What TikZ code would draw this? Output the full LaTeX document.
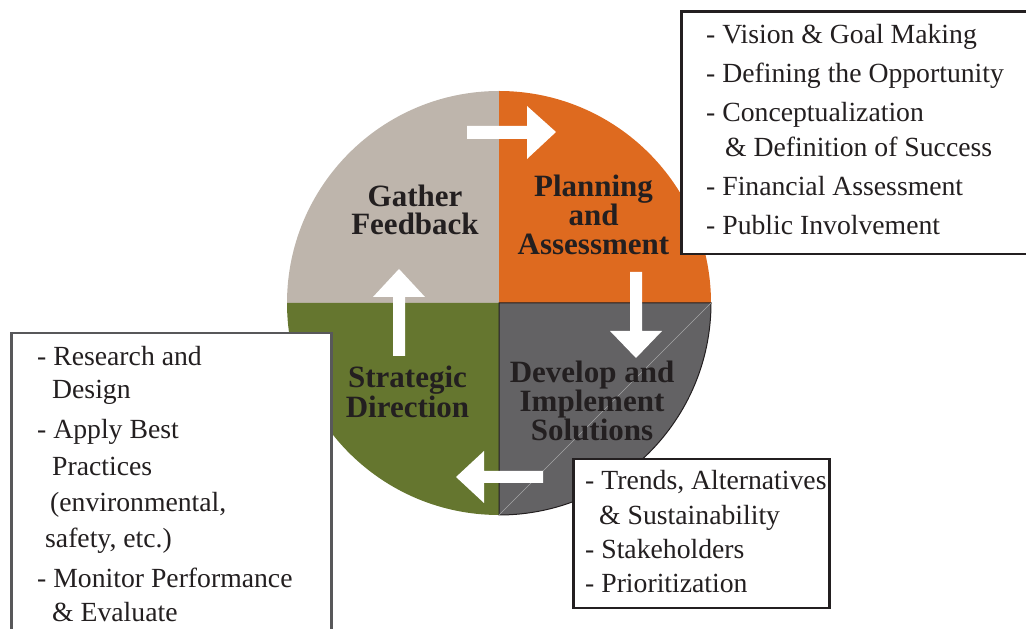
\documentclass[tikz,border=0pt]{standalone}
\usepackage{fontspec}
\setmainfont{Liberation Serif}
\begin{document}
\begin{tikzpicture}[x=1pt,y=1pt,
  txt/.style={inner sep=0pt, text=inkdark, font=\fontsize{27.7}{33}\selectfont},
  item/.style={txt, anchor=base west},
  lbl/.style={inner sep=0pt, anchor=base, text=inkdark, font=\fontsize{31}{29}\selectfont\bfseries},
  framebox/.style={draw=inkdark, line width=2.5pt, fill=white, rectangle, inner sep=0pt, anchor=north west},
  blockarrow/.style={fill=white, draw=none}]
\definecolor{inkdark}{HTML}{231F20}
\definecolor{qbeige}{HTML}{BEB5AC}
\definecolor{qorange}{HTML}{DE6A1F}
\definecolor{qgray}{HTML}{636264}
\definecolor{qgreen}{HTML}{65762F}
\definecolor{framegray}{HTML}{58585A}

\useasboundingbox (0,0) rectangle (1026,629);
\clip (0,0) rectangle (1026,629);

% four quadrants of the cycle
\coordinate (C) at (499,326);
\fill[qbeige]  (C) -- (287,326) arc[start angle=180, end angle=90,  radius=212] -- cycle;
\fill[qorange] (C) -- (499,538) arc[start angle=90,  end angle=0,   radius=212] -- cycle;
\fill[qgreen]  (C) -- (499,114) arc[start angle=270, end angle=180, radius=212] -- cycle;
\filldraw[fill=qgray, draw=inkdark, line width=1pt]
  (C) -- (711,326) arc[start angle=0, end angle=-90, radius=212] -- cycle;
\draw[gray!70, line width=0.6pt] (499,114) -- (711,326);

% white block arrows turning clockwise
\fill[blockarrow] (467,503) -- (527,503) -- (527,523) -- (556,497) -- (527,470) -- (527,490) -- (467,490) -- cycle;
\fill[blockarrow] (630,357) -- (642,357) -- (642,298) -- (662,298) -- (636,271) -- (610,298) -- (630,298) -- cycle;
\fill[blockarrow] (543,158) -- (484,158) -- (484,178) -- (456,152) -- (484,126) -- (484,146) -- (543,146) -- cycle;
\fill[blockarrow] (393,273) -- (405,273) -- (405,332) -- (425,332) -- (399,360) -- (373,332) -- (393,332) -- cycle;

% quadrant labels
\node[lbl] (g1) at (415,422) {Gather};
\node[lbl] (g2) at (415,394) {Feedback};
\node[lbl] (p1) at (593.5,432) {Planning};
\node[lbl] (p2) at (593.5,403) {and};
\node[lbl] (p3) at (593.5,374) {Assessment};
\node[lbl] (s1) at (407.5,241) {Strategic};
\node[lbl] (s2) at (407.5,211) {Direction};
\node[lbl] (d1) at (592,246) {Develop and};
\node[lbl] (d2) at (592,217) {Implement};
\node[lbl] (d3) at (592,188) {Solutions};

% planning tasks
\node[framebox, minimum width=370, minimum height=242.5] (planbox) at (680,618.5) {};
\node[item] (pa) at (706,585) {- Vision \& Goal Making};
\node[item] (pb) at (706,546) {- Defining the Opportunity};
\node[item] (pc) at (706,507) {- Conceptualization};
\node[item] (pd) at (725,472) {\& Definition of Success};
\node[item] (pe) at (706,433) {- Financial Assessment};
\node[item] (pf) at (706,394) {- Public Involvement};

% strategy tasks
\node[framebox, draw=framegray, minimum width=320, minimum height=330] (stratbox) at (10,297) {};
\begin{scope}[every node/.append style={font=\fontsize{28.2}{33}\selectfont}]
\node[item] (sa) at (37,263) {- Research and};
\node[item] (sb) at (52,230) {Design};
\node[item] (sc) at (37,190) {- Apply Best};
\node[item] (sd) at (52,153) {Practices};
\node[item] (se) at (50,117) {(environmental,};
\node[item] (sf) at (45,81) {safety, etc.)};
\node[item] (sg) at (37,41) {- Monitor Performance};
\node[item] (sh) at (52,7) {\& Evaluate};
\end{scope}

% implementation tasks
\node[framebox, minimum width=256, minimum height=149] (implbox) at (572,171) {};
\node[item] (ia) at (585,139) {- Trends, Alternatives};
\node[item] (ib) at (599,104) {\& Sustainability};
\node[item] (ic) at (585,70) {- Stakeholders};
\node[item] (id) at (585,36) {- Prioritization};
\end{tikzpicture}
\end{document}
